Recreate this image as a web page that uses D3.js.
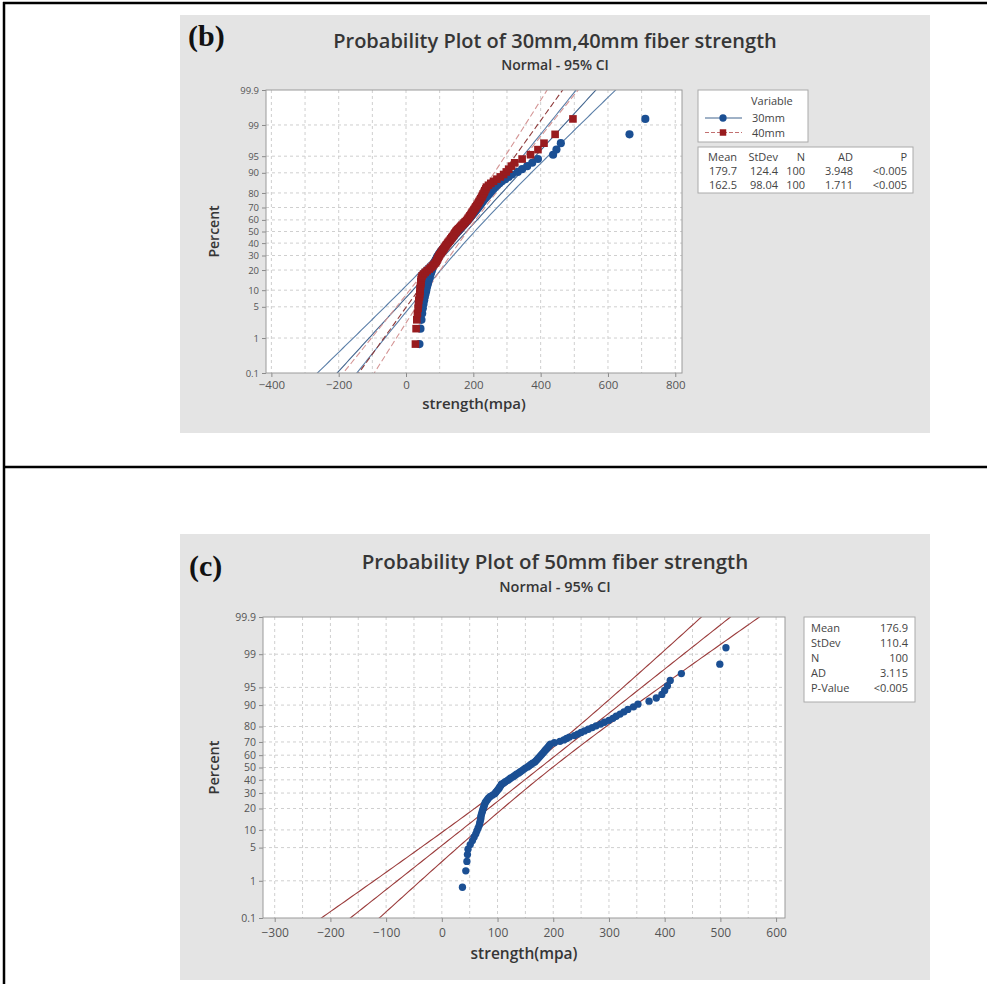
<!DOCTYPE html>
<html>
<head>
<meta charset="utf-8">
<style>
body { margin: 0; background: #fff; }
svg { display: block; font-family: 'Open Sans', 'Noto Sans', sans-serif; }
</style>
</head>
<body>
<div id="chart"></div>
<script src="https://cdnjs.cloudflare.com/ajax/libs/d3/7.8.5/d3.min.js"></script>
<script>
// tick labels
var percentTicks = [0.1, 1, 5, 10, 20, 30, 40, 50, 60, 70, 80, 90, 95, 99, 99.9];
var strengthTicksB = [-400, -200, 0, 200, 400, 600, 800];
var strengthTicksC = [-300, -200, -100, 0, 100, 200, 300, 400, 500, 600];

// fitted normal parameters (from the tables)
var seriesNamesB = ['30mm', '40mm'];
var meansB = [179.7, 162.5];
var stdevsB = [124.4, 98.04];
var meanC = 176.9;
var stdevC = 110.4;
var sampleSize = 100;

// table texts
var statsHeaderB = ['Mean', 'StDev', 'N', 'AD', 'P'];
var statsRow30mm = ['179.7', '124.4', '100', '3.948', '<0.005'];
var statsRow40mm = ['162.5', '98.04', '100', '1.711', '<0.005'];
var statsLabelsC = ['Mean', 'StDev', 'N', 'AD', 'P-Value'];
var statsValuesC = ['176.9', '110.4', '100', '3.115', '<0.005'];

// sorted strengths (mpa)
var strength30mm = [
  40, 43, 46, 48, 50, 52, 54, 56, 58, 60,
  61, 63, 65, 66, 68, 70, 71, 73, 75, 76,
  78, 79, 81, 83, 84, 86, 88, 90, 92, 94,
  97, 99, 102, 105, 108, 111, 114, 117, 120, 123,
  126, 129, 132, 135, 138, 141, 144, 147, 150, 153,
  156, 159, 162, 165, 168, 171, 174, 177, 180, 183,
  186, 189, 192, 195, 198, 201, 204, 207, 210, 213,
  216, 219, 222, 225, 228, 231, 235, 239, 243, 247,
  251, 255, 260, 265, 271, 278, 285, 295, 305, 315,
  332, 345, 360, 375, 392, 437, 447, 460, 664, 711
];
var strength40mm = [
  28, 30, 32, 34, 36, 37, 38, 40, 41, 42,
  42, 43, 44, 44, 45, 46, 48, 52, 57, 63,
  69, 74, 79, 83, 87, 90, 92, 94, 96, 98,
  100, 103, 105, 108, 110, 113, 115, 118, 120, 123,
  125, 128, 131, 133, 136, 138, 141, 143, 145, 148,
  150, 153, 156, 160, 163, 166, 170, 173, 176, 180,
  183, 185, 188, 190, 193, 195, 197, 200, 202, 205,
  207, 210, 212, 215, 217, 220, 222, 225, 227, 229,
  232, 234, 237, 239, 245, 252, 260, 270, 280, 290,
  298, 305, 313, 323, 345, 370, 392, 410, 443, 496
];
var strength50mm = [
  37, 43, 45, 46, 47, 51, 55, 58, 61, 63,
  65, 67, 68, 69, 70, 70, 71, 72, 73, 74,
  75, 76, 77, 78, 80, 82, 84, 87, 91, 95,
  97, 99, 101, 103, 104, 106, 107, 111, 114, 118,
  121, 124, 128, 131, 134, 138, 141, 144, 147, 150,
  154, 157, 160, 163, 167, 169, 171, 173, 175, 177,
  179, 181, 183, 185, 187, 189, 191, 193, 195, 202,
  212, 219, 224, 229, 238, 244, 250, 256, 263, 270,
  277, 285, 292, 300, 307, 313, 320, 327, 334, 344,
  352, 372, 385, 395, 400, 405, 410, 430, 499, 510
];

var W = 987, H = 984;
var svg = d3.select('#chart').append('svg').attr('width', W).attr('height', H);
svg.append('rect').attr('width', W).attr('height', H).attr('fill', '#fff');

// inverse normal cdf (Acklam)
function probit(p) {
  var a = [-3.969683028665376e+01, 2.209460984245205e+02, -2.759285104469687e+02, 1.383577518672690e+02, -3.066479806614716e+01, 2.506628277459239e+00];
  var b = [-5.447609879822406e+01, 1.615858368580409e+02, -1.556989798598866e+02, 6.680131188771802e+01, -1.328068155288572e+01];
  var c = [-7.784894002430293e-03, -3.223964580411365e-01, -2.400758277161838e+00, -2.549732539343734e+00, 4.374664141464968e+00, 2.938163982698783e+00];
  var d = [7.784695709041462e-03, 3.224671290700398e-01, 2.445134137142996e+00, 3.754408661907416e+00];
  var q, r;
  if (p < 0.02425) {
    q = Math.sqrt(-2 * Math.log(p));
    return (((((c[0]*q+c[1])*q+c[2])*q+c[3])*q+c[4])*q+c[5]) / ((((d[0]*q+d[1])*q+d[2])*q+d[3])*q+1);
  }
  if (p > 1 - 0.02425) {
    q = Math.sqrt(-2 * Math.log(1 - p));
    return -(((((c[0]*q+c[1])*q+c[2])*q+c[3])*q+c[4])*q+c[5]) / ((((d[0]*q+d[1])*q+d[2])*q+d[3])*q+1);
  }
  q = p - 0.5; r = q * q;
  return (((((a[0]*r+a[1])*r+a[2])*r+a[3])*r+a[4])*r+a[5])*q / (((((b[0]*r+b[1])*r+b[2])*r+b[3])*r+b[4])*r+1);
}

// page frame
function frameLine(x1, y1, x2, y2) {
  svg.append('line').attr('x1', x1).attr('y1', y1).attr('x2', x2).attr('y2', y2)
    .attr('stroke', '#000').attr('stroke-width', 2.5);
}
frameLine(3, 3, W, 3);
frameLine(4, 2, 4, H);
frameLine(3, 467, W, 467);

function drawPanel(o) {
  var g = svg.append('g');
  g.append('rect').attr('x', o.panel[0]).attr('y', o.panel[1])
    .attr('width', o.panel[2]).attr('height', o.panel[3]).attr('fill', '#e4e4e4');

  g.append('text').attr('x', o.tag[0]).attr('y', o.tag[1]).text(o.tagText)
    .attr('font-family', "'Liberation Serif', 'DejaVu Serif', serif")
    .attr('font-weight', 'bold').attr('font-size', o.tagSize).attr('fill', '#111');

  g.append('text').attr('x', o.titleX).attr('y', o.titleY).attr('text-anchor', 'middle')
    .attr('font-size', o.titleSize).attr('font-weight', 600).attr('fill', '#363636').text(o.title);
  g.append('text').attr('x', o.titleX).attr('y', o.subY).attr('text-anchor', 'middle')
    .attr('font-size', o.subSize).attr('font-weight', 600).attr('fill', '#363636').text('Normal - 95% CI');

  var x = d3.scaleLinear().domain(o.xDomain).range([o.left, o.left + o.width]);
  var y = d3.scaleLinear().domain([probit(0.001), probit(0.999)]).range([o.top + o.height, o.top]);

  g.append('rect').attr('x', o.left).attr('y', o.top).attr('width', o.width).attr('height', o.height)
    .attr('fill', '#fff');

  var clipId = 'clip' + o.tagText.replace(/\W/g, '');
  svg.append('clipPath').attr('id', clipId).append('rect')
    .attr('x', o.left).attr('y', o.top).attr('width', o.width).attr('height', o.height);

  // grid
  var grid = g.append('g').attr('stroke', '#cfcfcf').attr('stroke-width', 1).attr('stroke-dasharray', '3,3');
  grid.selectAll('line.v').data(d3.range(Math.ceil(o.xDomain[0] / o.gridStep) * o.gridStep, o.xDomain[1], o.gridStep))
    .enter().append('line').attr('class', 'v')
    .attr('x1', function(d) { return x(d); }).attr('x2', function(d) { return x(d); })
    .attr('y1', o.top).attr('y2', o.top + o.height);
  grid.selectAll('line.h').data(percentTicks.slice(1, -1))
    .enter().append('line').attr('class', 'h')
    .attr('x1', o.left).attr('x2', o.left + o.width)
    .attr('y1', function(d) { return y(probit(d / 100)); })
    .attr('y2', function(d) { return y(probit(d / 100)); });

  // axes
  var yAxis = d3.axisLeft(y)
    .tickValues(percentTicks.map(function(p) { return probit(p / 100); }))
    .tickFormat(function(d, i) { return percentTicks[i]; })
    .tickSize(4).tickPadding(3);
  var xAxis = d3.axisBottom(x).tickValues(o.xTicks).tickFormat(d3.format('d'))
    .tickSize(4).tickPadding(o.xPad);
  var ya = g.append('g').attr('transform', 'translate(' + o.left + ',0)').call(yAxis);
  var xa = g.append('g').attr('transform', 'translate(0,' + (o.top + o.height) + ')').call(xAxis);
  [ya, xa].forEach(function(a, k) {
    a.select('.domain').remove();
    a.selectAll('.tick line').attr('stroke', '#8a8a8a');
    a.selectAll('.tick text').attr('fill', '#555').attr('font-size', k === 0 ? o.yTickSize : o.xTickSize)
      .attr('font-family', "'Open Sans', sans-serif");
  });

  g.append('text').attr('transform', 'translate(' + o.yLabelX + ',' + (o.top + o.height / 2) + ') rotate(-90)')
    .attr('text-anchor', 'middle').attr('font-size', o.labelSize).attr('font-weight', 600)
    .attr('fill', '#363636').text('Percent');
  g.append('text').attr('x', o.left + o.width / 2).attr('y', o.xLabelY).attr('text-anchor', 'middle')
    .attr('font-size', o.labelSize + 1).attr('font-weight', 600).attr('fill', '#363636').text('strength(mpa)');

  // fitted lines and confidence bands
  var plot = g.append('g').attr('clip-path', 'url(#' + clipId + ')');
  var zs = d3.range(-3.5, 3.51, 0.05);
  o.fits.forEach(function(f) {
    [-1, 0, 1].forEach(function(k) {
      var line = d3.line()
        .x(function(z) { return x(f.mean + z * f.sd + k * 1.96 * f.sd * Math.sqrt((1 + z * z / 2) / sampleSize)); })
        .y(function(z) { return y(z); });
      plot.append('path').datum(zs).attr('d', line).attr('fill', 'none')
        .attr('stroke', k === 0 ? f.color : f.ciColor).attr('stroke-width', 1.1)
        .attr('stroke-dasharray', f.dash || null);
    });
  });

  // points, median ranks
  o.series.forEach(function(s) {
    var n = s.values.length;
    var sym = d3.symbol().type(s.shape).size(s.size);
    plot.selectAll(null).data(s.values).enter().append('path')
      .attr('d', sym)
      .attr('transform', function(d, i) {
        return 'translate(' + x(d) + ',' + y(probit((i + 1 - 0.3) / (n + 0.4))) + ')';
      })
      .attr('fill', s.color);
  });

  g.append('rect').attr('x', o.left).attr('y', o.top).attr('width', o.width).attr('height', o.height)
    .attr('fill', 'none').attr('stroke', '#9a9a9a');
  return g;
}

var blue = '#1b4f93', red = '#981b1e';

// (b)
var gb = drawPanel({
  panel: [180, 15, 750, 418], tagText: '(b)', tag: [188, 46], tagSize: 30,
  title: 'Probability Plot of 30mm,40mm fiber strength', titleX: 555, titleY: 48, subY: 70,
  titleSize: 20, subSize: 14,
  left: 266, top: 90, width: 416, height: 283, xDomain: [-416, 820], xTicks: strengthTicksB, gridStep: 100,
  yTickSize: 9.5, xTickSize: 11.5, xPad: 4, labelSize: 14, yLabelX: 219, xLabelY: 409,
  fits: [
    { mean: meansB[0], sd: stdevsB[0], color: '#41648e', ciColor: '#5b7fa8' },
    { mean: meansB[1], sd: stdevsB[1], color: '#8e3a3a', ciColor: '#d49595', dash: '6,3' }
  ],
  series: [
    { values: strength30mm, color: blue, shape: d3.symbolCircle, size: 52 },
    { values: strength40mm, color: red, shape: d3.symbolSquare, size: 58 }
  ]
});

// legend (b)
var leg = gb.append('g');
leg.append('rect').attr('x', 698).attr('y', 90).attr('width', 110).attr('height', 52)
  .attr('fill', '#fff').attr('stroke', '#aaa');
leg.append('text').attr('x', 751).attr('y', 105).attr('font-size', 11).attr('fill', '#444').text('Variable');
seriesNamesB.forEach(function(name, i) {
  var yy = 118 + i * 14.5;
  var col = i === 0 ? blue : red;
  leg.append('line').attr('x1', 705).attr('x2', 742).attr('y1', yy).attr('y2', yy)
    .attr('stroke', i === 0 ? '#41648e' : '#c27070').attr('stroke-dasharray', i === 0 ? null : '4,2');
  leg.append('path').attr('d', d3.symbol().type(i === 0 ? d3.symbolCircle : d3.symbolSquare).size(42))
    .attr('transform', 'translate(723,' + yy + ')').attr('fill', col);
  leg.append('text').attr('x', 752).attr('y', yy + 4).attr('font-size', 11).attr('fill', '#444').text(name);
});

// stats table (b)
var tb = gb.append('g');
tb.append('rect').attr('x', 698).attr('y', 147).attr('width', 215).attr('height', 46)
  .attr('fill', '#fff').attr('stroke', '#aaa');
var colRight = [737, 778, 805, 853, 907];
[statsHeaderB, statsRow30mm, statsRow40mm].forEach(function(row, r) {
  row.forEach(function(t, c) {
    tb.append('text').attr('x', colRight[c]).attr('y', 161 + r * 14).attr('text-anchor', 'end')
      .attr('font-size', 11).attr('fill', '#444').text(t);
  });
});

// (c)
var gc = drawPanel({
  panel: [180, 534, 750, 446], tagText: '(c)', tag: [189, 576], tagSize: 30,
  title: 'Probability Plot of 50mm fiber strength', titleX: 555, titleY: 569, subY: 592,
  titleSize: 20.5, subSize: 14.5,
  left: 263, top: 617, width: 522, height: 301, xDomain: [-321, 616], xTicks: strengthTicksC, gridStep: 50,
  yTickSize: 10.5, xTickSize: 12, xPad: 6, labelSize: 14.5, yLabelX: 219, xLabelY: 959,
  fits: [
    { mean: meanC, sd: stdevC, color: '#9a3b3b', ciColor: '#9a3b3b' }
  ],
  series: [
    { values: strength50mm, color: blue, shape: d3.symbolCircle, size: 42 }
  ]
});

var tc = gc.append('g');
tc.append('rect').attr('x', 804).attr('y', 617).attr('width', 111).attr('height', 85)
  .attr('fill', '#fff').attr('stroke', '#aaa');
statsLabelsC.forEach(function(t, i) {
  tc.append('text').attr('x', 811).attr('y', 632 + i * 15).attr('font-size', 11).attr('fill', '#444').text(t);
  tc.append('text').attr('x', 908).attr('y', 632 + i * 15).attr('text-anchor', 'end')
    .attr('font-size', 11).attr('fill', '#444').text(statsValuesC[i]);
});
</script>
</body>
</html>
